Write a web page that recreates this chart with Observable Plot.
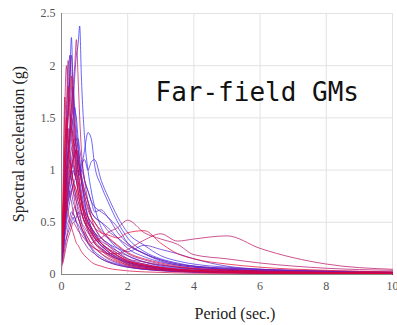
<!DOCTYPE html>
<html><head><meta charset="utf-8">
<script src="https://cdn.jsdelivr.net/npm/d3@7"></script>
<script src="https://cdn.jsdelivr.net/npm/@observablehq/plot@0.6"></script>
<style>body{margin:0;background:#fff;} svg{display:block;}</style>
</head><body><div id="chart"></div>
<script>
const periods = [0,0.05,0.1,0.15,0.2,0.25,0.3,0.35,0.4,0.45,0.5,0.55,0.6,0.7,0.8,0.9,1.0,1.2,1.4,1.7,2.0,2.5,3.0,3.5,4.0,5.0,6.0,8.0,10.0];
const xTicks = [0,2,4,6,8,10];
const yTicks = [0,0.5,1,1.5,2,2.5];
const title = "Far-field GMs";
const xLabel = "Period (sec.)";
const yLabel = "Spectral acceleration (g)";
// spectra ordered from blue to red
const spectra = [
 [0.3,0.45,0.7,0.9,1.1,1.3,1.5,1.6,1.9,2.1,2.2,2.38,1.9,1.3,1.0,0.8,0.65,0.45,0.35,0.25,0.18,0.12,0.08,0.06,0.05,0.035,0.025,0.015,0.01],
 [0.25,0.4,0.8,1.2,1.5,1.9,2.27,1.8,1.6,1.5,1.3,1.1,0.9,0.7,0.55,0.45,0.4,0.3,0.22,0.16,0.12,0.08,0.06,0.045,0.035,0.025,0.02,0.012,0.008],
 [0.2,0.3,0.5,0.7,0.8,0.9,1.0,1.1,1.2,1.1,1.0,0.95,1.0,1.2,1.36,1.3,1.05,0.85,0.7,0.5,0.35,0.22,0.15,0.11,0.08,0.05,0.035,0.02,0.012],
 [0.1,0.2,0.35,0.45,0.5,0.55,0.6,0.58,0.55,0.5,0.48,0.45,0.42,0.36,0.3,0.26,0.22,0.17,0.13,0.1,0.075,0.05,0.038,0.03,0.024,0.018,0.013,0.008,0.005],
 [0.15,0.25,0.4,0.55,0.7,0.8,0.9,1.0,0.95,1.05,1.1,1.0,1.05,1.1,1.0,1.08,1.1,0.9,0.75,0.55,0.4,0.28,0.18,0.13,0.1,0.07,0.05,0.03,0.02],
 [0.2,0.35,0.6,0.9,1.1,1.2,1.4,1.5,1.6,1.4,1.2,1.1,0.95,0.8,0.7,0.6,0.55,0.5,0.45,0.35,0.25,0.17,0.12,0.09,0.07,0.05,0.035,0.02,0.015],
 [0.15,0.25,0.4,0.5,0.6,0.7,0.8,0.85,0.9,0.95,1.0,0.95,1.0,0.9,0.8,0.7,0.6,0.62,0.55,0.45,0.3,0.2,0.13,0.09,0.07,0.05,0.04,0.025,0.015],
 [0.3,0.5,0.9,1.3,1.7,2.1,1.8,1.5,1.3,1.2,1.0,0.9,0.8,0.65,0.55,0.5,0.45,0.35,0.3,0.22,0.15,0.1,0.07,0.05,0.04,0.03,0.02,0.012,0.008],
 [0.1,0.2,0.3,0.35,0.4,0.45,0.5,0.55,0.5,0.55,0.6,0.58,0.6,0.55,0.5,0.45,0.4,0.35,0.3,0.25,0.22,0.28,0.24,0.2,0.15,0.08,0.05,0.03,0.02],
 [0.2,0.3,0.5,0.7,0.9,1.0,1.1,1.2,1.25,1.3,1.3,1.2,1.1,0.9,0.8,0.7,0.65,0.6,0.55,0.4,0.3,0.2,0.14,0.1,0.08,0.06,0.045,0.03,0.02],
 [0.25,0.4,0.7,1.0,1.2,1.4,1.6,1.8,1.5,1.3,1.2,1.0,0.9,0.7,0.55,0.45,0.38,0.3,0.25,0.18,0.13,0.09,0.06,0.045,0.035,0.025,0.018,0.01,0.007],
 [0.15,0.3,0.5,0.65,0.75,0.8,0.78,0.7,0.65,0.6,0.55,0.5,0.45,0.38,0.3,0.25,0.2,0.15,0.12,0.09,0.07,0.05,0.04,0.03,0.025,0.02,0.015,0.01,0.007],
 [0.2,0.35,0.8,1.1,1.4,1.2,1.0,0.9,0.8,0.7,0.6,0.55,0.5,0.45,0.4,0.35,0.3,0.25,0.2,0.15,0.1,0.07,0.05,0.035,0.028,0.02,0.015,0.01,0.006],
 [0.15,0.25,0.45,0.6,0.75,0.9,1.0,1.1,1.15,1.2,1.1,1.0,0.95,0.8,0.7,0.6,0.55,0.5,0.42,0.35,0.28,0.2,0.14,0.1,0.08,0.06,0.05,0.035,0.025],
 [0.3,0.5,0.9,1.3,1.6,1.85,2.1,1.7,1.4,1.2,1.0,0.85,0.75,0.6,0.5,0.42,0.35,0.27,0.2,0.15,0.11,0.07,0.05,0.035,0.028,0.02,0.015,0.01,0.007],
 [0.25,0.5,0.8,0.9,0.85,0.75,0.7,0.6,0.55,0.5,0.45,0.4,0.35,0.3,0.25,0.22,0.2,0.15,0.12,0.09,0.07,0.05,0.035,0.025,0.02,0.015,0.01,0.007,0.005],
 [0.2,0.35,0.7,1.0,1.2,1.35,1.5,1.4,1.2,1.0,0.85,0.8,0.7,0.55,0.45,0.4,0.35,0.28,0.22,0.17,0.12,0.08,0.06,0.045,0.035,0.025,0.018,0.012,0.008],
 [0.15,0.3,0.5,0.7,0.85,0.95,1.0,1.05,0.95,0.9,0.8,0.75,0.7,0.6,0.5,0.45,0.4,0.32,0.28,0.22,0.18,0.12,0.09,0.07,0.055,0.04,0.03,0.02,0.012],
 [0.2,0.35,0.6,0.8,0.95,1.0,0.9,0.8,0.75,0.7,0.65,0.6,0.5,0.42,0.35,0.3,0.26,0.2,0.15,0.11,0.08,0.055,0.04,0.03,0.025,0.018,0.013,0.008,0.005],
 [0.2,0.4,0.6,0.8,1.0,1.1,1.2,1.25,1.3,1.2,1.1,1.0,0.9,0.75,0.65,0.55,0.5,0.4,0.35,0.27,0.2,0.14,0.1,0.07,0.055,0.04,0.03,0.02,0.014],
 [0.2,0.35,0.6,0.85,1.0,1.1,1.0,0.9,0.85,0.8,0.7,0.65,0.6,0.5,0.45,0.4,0.35,0.3,0.25,0.2,0.15,0.12,0.09,0.07,0.055,0.04,0.03,0.02,0.013],
 [0.1,0.25,0.45,0.6,0.7,0.75,0.8,0.85,0.8,0.75,0.7,0.65,0.6,0.5,0.45,0.4,0.35,0.28,0.22,0.16,0.12,0.08,0.06,0.045,0.035,0.026,0.02,0.013,0.009],
 [0.0,0.7,1.6,2.0,1.7,1.5,1.3,1.1,1.0,0.9,0.8,0.7,0.6,0.5,0.42,0.35,0.3,0.24,0.19,0.14,0.1,0.07,0.05,0.04,0.03,0.022,0.016,0.01,0.007],
 [0.3,0.6,1.1,1.6,2.05,1.8,1.5,1.3,1.2,1.0,0.9,0.8,0.7,0.55,0.45,0.38,0.32,0.25,0.2,0.15,0.11,0.08,0.06,0.045,0.035,0.025,0.018,0.012,0.008],
 [0.1,0.15,0.25,0.35,0.45,0.5,0.55,0.6,0.65,0.6,0.55,0.5,0.45,0.4,0.35,0.3,0.32,0.35,0.4,0.45,0.52,0.4,0.34,0.29,0.19,0.15,0.11,0.06,0.04],
 [0.08,0.12,0.2,0.28,0.35,0.4,0.45,0.5,0.48,0.45,0.42,0.4,0.38,0.34,0.3,0.27,0.25,0.22,0.2,0.2,0.24,0.33,0.39,0.32,0.34,0.37,0.25,0.1,0.05],
 [0.25,0.4,0.7,1.0,1.2,1.4,1.6,1.8,2.0,2.25,1.9,1.5,1.2,0.9,0.7,0.55,0.45,0.35,0.28,0.2,0.14,0.1,0.07,0.05,0.04,0.03,0.02,0.012,0.008],
 [0.02,0.9,1.7,1.4,1.2,1.0,0.9,0.8,0.7,0.6,0.55,0.5,0.45,0.38,0.32,0.28,0.25,0.2,0.16,0.12,0.09,0.06,0.045,0.035,0.028,0.02,0.015,0.01,0.006],
 [0.2,0.4,0.7,0.9,1.1,1.3,1.4,1.3,1.1,1.0,0.9,0.8,0.7,0.55,0.48,0.42,0.38,0.3,0.24,0.18,0.13,0.09,0.065,0.05,0.04,0.03,0.022,0.015,0.01],
 [0.3,0.6,1.2,1.5,1.8,1.6,1.4,1.2,1.0,0.9,0.8,0.7,0.6,0.5,0.42,0.36,0.3,0.23,0.18,0.13,0.09,0.06,0.045,0.035,0.028,0.02,0.015,0.01,0.006],
 [0.2,0.5,0.8,0.7,0.6,0.5,0.45,0.4,0.35,0.3,0.28,0.25,0.22,0.18,0.15,0.12,0.1,0.08,0.06,0.045,0.035,0.025,0.02,0.015,0.012,0.009,0.007,0.005,0.004],
 [0.15,0.3,0.5,0.7,0.85,0.95,1.05,1.1,1.15,1.2,1.15,1.0,0.9,0.75,0.62,0.55,0.5,0.42,0.36,0.28,0.21,0.15,0.11,0.08,0.06,0.045,0.035,0.022,0.015],
 [0.3,0.5,0.9,1.3,1.5,1.7,1.9,1.6,1.4,1.2,1.0,0.85,0.75,0.6,0.5,0.43,0.37,0.3,0.24,0.18,0.13,0.09,0.065,0.05,0.04,0.03,0.022,0.014,0.01],
 [0.3,0.6,1.2,1.5,1.3,1.1,1.0,0.9,0.85,0.8,0.75,0.7,0.65,0.6,0.55,0.5,0.45,0.4,0.38,0.35,0.4,0.42,0.3,0.2,0.15,0.1,0.07,0.04,0.025]
];
const blue = "rgb(40,40,255)", red = "rgb(232,0,45)";
const colorOf = d3.interpolateRgb(blue, red);
const n = spectra.length;
const serif = "'Liberation Serif', 'Times New Roman', serif";
const lineMarks = spectra.map((vals, i) =>
  Plot.line(periods.map((T, j) => ({T, Sa: vals[j]})), {
    x: "T", y: "Sa", stroke: colorOf(i / (n - 1)), strokeWidth: 1, strokeOpacity: 0.7, curve: "monotone-x"
  })
);
const chart = Plot.plot({
  width: 397, height: 325,
  marginLeft: 61, marginRight: 5, marginTop: 13, marginBottom: 51,
  style: {fontFamily: serif, fontSize: "12px", color: "#444", background: "#fff"},
  x: {domain: [0, 10]},
  y: {domain: [0, 2.5]},
  marks: [
    Plot.gridX(xTicks, {stroke: "#e2e2e2", strokeOpacity: 1}),
    Plot.gridY(yTicks, {stroke: "#e2e2e2", strokeOpacity: 1}),
    ...lineMarks,
    Plot.ruleX([0], {stroke: "#888"}),
    Plot.ruleY([0], {stroke: "#888"}),
    Plot.axisX(xTicks, {tickSize: 0, tickPadding: 7, label: null, fill: "#555", fontFamily: serif, fontSize: 12, tickFormat: d => String(d)}),
    Plot.axisY(yTicks, {tickSize: 0, tickPadding: 6, label: null, fill: "#555", fontFamily: serif, fontSize: 12, tickFormat: d => String(d)}),
    Plot.text([title], {frameAnchor: "top-left", dx: 94, dy: 79, textAnchor: "start", lineAnchor: "middle",
      fontFamily: "'DejaVu Sans Mono', monospace", fontSize: 26, fill: "#111"}),
    Plot.text([yLabel], {frameAnchor: "left", dx: -38, rotate: -90, textAnchor: "middle", lineAnchor: "bottom",
      fontFamily: serif, fontSize: 16, fill: "#222"}),
    Plot.text([xLabel], {frameAnchor: "bottom", dx: 8, dy: 44, textAnchor: "middle", lineAnchor: "bottom",
      fontFamily: serif, fontSize: 16, fill: "#222"})
  ]
});
document.getElementById("chart").appendChild(chart);
</script></body></html>
